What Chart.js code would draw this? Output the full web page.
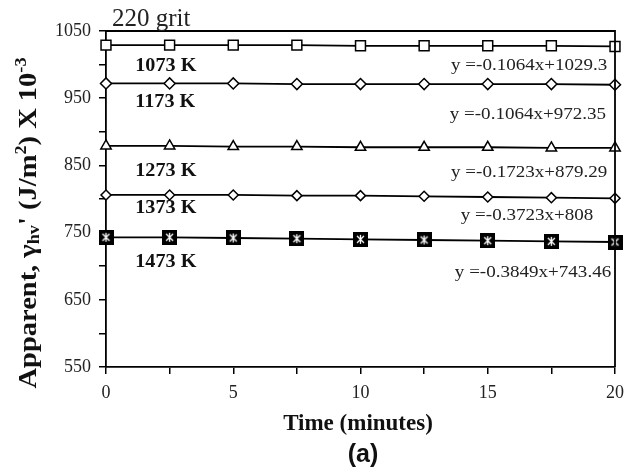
<!DOCTYPE html>
<html>
<head>
<meta charset="utf-8">
<script src="https://cdn.jsdelivr.net/npm/chart.js@4"></script>
<style>
  html, body { margin: 0; padding: 0; background: #fff; }
  #wrap { width: 633px; height: 474px; }
</style>
</head>
<body>
<div id="wrap"><canvas id="chart" width="633" height="474"></canvas></div>
<script>
// --- DATA ---
const timeMinutes = [0, 2.5, 5, 7.5, 10, 12.5, 15, 17.5, 20];
const series1073 = [1029, 1029, 1029, 1029, 1028, 1028, 1028, 1028, 1027];
const series1173 = [972, 972, 972, 971, 971, 971, 971, 971, 970];
const series1273 = [879, 879, 878, 878, 877, 877, 877, 876, 876];
const series1373 = [806, 806, 806, 805, 805, 804, 803, 802, 801];
const series1473 = [743, 743, 742, 741, 740, 739, 738, 737, 736];
const tempLabels = ['1073 K', '1173 K', '1273 K', '1373 K', '1473 K'];
const fitLabels = ['y =-0.1064x+1029.3', 'y =-0.1064x+972.35', 'y =-0.1723x+879.29', 'y =-0.3723x+808', 'y =-0.3849x+743.46'];
const yTickLabels = [550, 650, 750, 850, 950, 1050];
const xTickLabels = [0, 5, 10, 15, 20];

const SERIF = "'Liberation Serif', 'Times New Roman', serif";

// filled square with white star for 1473 K
function starBox() {
    const c = document.createElement('canvas');
    c.width = 15; c.height = 15;
    const g = c.getContext('2d');
    g.fillStyle = '#000';
    g.fillRect(0, 0, 15, 15);
    g.strokeStyle = '#fff';
    g.lineWidth = 1.3;
    g.beginPath();
    g.moveTo(4, 4); g.lineTo(11, 11);
    g.moveTo(11, 4); g.lineTo(4, 11);
    g.moveTo(7.5, 3); g.lineTo(7.5, 12);
    g.stroke();
    return c;
}

function makeSeries(label, values, style, radius) {
    return {
        label: label,
        data: timeMinutes.map((t, i) => ({ x: t, y: values[i] })),
        borderColor: '#000',
        borderWidth: 1.8,
        pointStyle: style,
        pointRadius: radius,
        pointBackgroundColor: '#fff',
        pointBorderColor: '#000',
        pointBorderWidth: 1.5,
        showLine: true,
        tension: 0,
        clip: false
    };
}

// text stretched horizontally (the source figure's type is a bit wide)
function wideText(ctx, text, x, y, sx) {
    ctx.save();
    ctx.translate(x, y);
    ctx.scale(sx, 1);
    ctx.fillText(text, 0, 0);
    ctx.restore();
}

// text labels and box border
const textPlugin = {
    id: 'textPlugin',
    afterDraw(chart) {
        const ctx = chart.ctx;
        const xs = chart.scales.x, ys = chart.scales.y;
        const a = chart.chartArea;
        ctx.save();

        // box top + right
        ctx.strokeStyle = '#000';
        ctx.lineWidth = 1.8;
        ctx.beginPath();
        ctx.moveTo(a.left, a.top);
        ctx.lineTo(a.right, a.top);
        ctx.lineTo(a.right, a.bottom);
        ctx.stroke();

        // temperature labels
        const tempY = [998, 944, 841, 786, 705];
        ctx.fillStyle = '#111';
        ctx.font = 'bold 18px ' + SERIF;
        ctx.textAlign = 'left';
        ctx.textBaseline = 'middle';
        tempLabels.forEach((t, i) => wideText(ctx, t, xs.getPixelForValue(1.15), ys.getPixelForValue(tempY[i]), 1.12));

        // fit equations
        const fitY = [998, 926, 839, 776, 691];
        const fitX = [19.7, 19.65, 19.7, 19.15, 19.85];
        ctx.font = '17px ' + SERIF;
        ctx.textAlign = 'right';
        ctx.fillStyle = '#222';
        fitLabels.forEach((t, i) => wideText(ctx, t, xs.getPixelForValue(fitX[i]), ys.getPixelForValue(fitY[i]), 1.12));

        // 220 grit
        ctx.font = '25px ' + SERIF;
        ctx.textAlign = 'left';
        ctx.textBaseline = 'alphabetic';
        ctx.fillText('220 grit', 112, 26);

        // x title
        ctx.fillStyle = '#111';
        ctx.font = 'bold 23px ' + SERIF;
        ctx.textAlign = 'center';
        ctx.textBaseline = 'middle';
        ctx.fillText('Time (minutes)', 358, 424);

        // (a)
        ctx.font = "bold 25px 'Liberation Sans', Arial, sans-serif";
        ctx.fillText('(a)', 363, 455);

        // y title with sub/superscripts
        const parts = [
            { t: 'Apparent, γ', s: 25, dy: 0 },
            { t: 'hv', s: 16, dy: 3 },
            { t: "' (J/m", s: 25, dy: 0 },
            { t: '2', s: 16, dy: -10 },
            { t: ') X 10', s: 25, dy: 0 },
            { t: '-3', s: 16, dy: -10 }
        ];
        let total = 0;
        parts.forEach(p => { ctx.font = 'bold ' + p.s + 'px ' + SERIF; p.w = ctx.measureText(p.t).width; total += p.w; });
        ctx.translate(28, 223);
        ctx.rotate(-Math.PI / 2);
        ctx.scale(1.14, 1);
        ctx.textAlign = 'left';
        ctx.textBaseline = 'alphabetic';
        let cx = -total / 2;
        parts.forEach(p => {
            ctx.font = 'bold ' + p.s + 'px ' + SERIF;
            ctx.fillText(p.t, cx, 8 + p.dy);
            cx += p.w;
        });
        ctx.restore();
    }
};

const ctx = document.getElementById('chart').getContext('2d');
new Chart(ctx, {
    type: 'scatter',
    data: {
        datasets: [
            makeSeries('1073 K', series1073, 'rect', 7),
            makeSeries('1173 K', series1173, 'rectRot', 5.5),
            makeSeries('1273 K', series1273, 'triangle', 6),
            makeSeries('1373 K', series1373, 'rectRot', 5),
            Object.assign(makeSeries('1473 K', series1473, starBox(), 7), { pointBorderWidth: 0 })
        ]
    },
    options: {
        responsive: false,
        animation: false,
        layout: { padding: { left: 56, right: 18, top: 31, bottom: 67 } },
        plugins: { legend: { display: false }, tooltip: { enabled: false } },
        scales: {
            x: {
                type: 'linear',
                min: 0, max: 20,
                afterFit: s => { s.height = 40; },
                afterBuildTicks: s => { s.ticks = timeMinutes.map(v => ({ value: v })); },
                border: { color: '#000', width: 1.8 },
                grid: { drawOnChartArea: false, color: '#000', lineWidth: 1.5, tickLength: 7 },
                ticks: {
                    color: '#222',
                    font: { family: SERIF, size: 18 },
                    padding: 8,
                    maxRotation: 0,
                    autoSkip: false,
                    callback: v => xTickLabels.includes(v) ? String(v) : ''
                }
            },
            y: {
                min: 550, max: 1050,
                afterFit: s => { s.width = 50; },
                afterBuildTicks: s => {
                    const t = [];
                    for (let v = 550; v <= 1050; v += 50) t.push({ value: v });
                    s.ticks = t;
                },
                border: { color: '#000', width: 1.8 },
                grid: { drawOnChartArea: false, color: '#000', lineWidth: 1.5, tickLength: 7 },
                ticks: {
                    color: '#222',
                    font: { family: SERIF, size: 18 },
                    padding: 8,
                    autoSkip: false,
                    callback: v => yTickLabels.includes(v) ? String(v) : ''
                }
            }
        }
    },
    plugins: [textPlugin]
});
</script>
</body>
</html>
